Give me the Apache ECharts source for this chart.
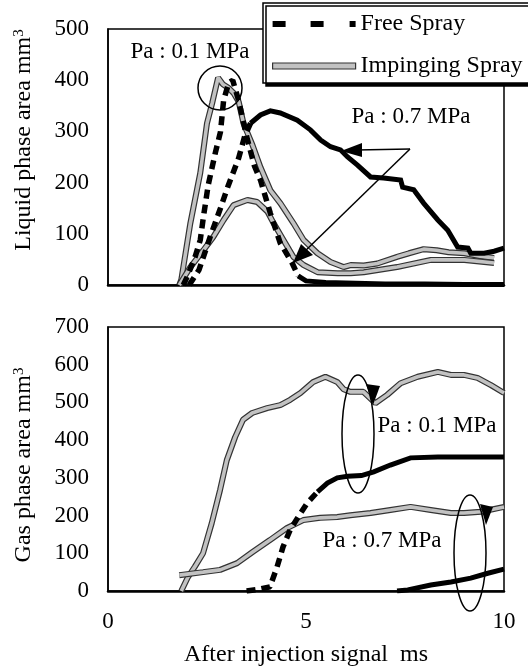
<!DOCTYPE html>
<html>
<head>
<meta charset="utf-8">
<script src="https://cdn.jsdelivr.net/npm/echarts@6/dist/echarts.min.js"></script>
<style>
  html, body { margin: 0; padding: 0; background: #fff; }
  #chart { width: 528px; height: 671px; }
</style>
</head>
<body>
<div id="chart"></div>
<script>
// x range (ms) and tick steps
const xRange = [0, 10];
const xStep = 5;
const liquidRange = [0, 500];
const gasRange = [0, 700];
const yStep = 100;

// liquid phase area, mm3
const liquidFree01 = [[1.9,0],[2.0,16],[2.2,55],[2.33,88],[2.41,133],[2.53,195],[2.71,258],[2.84,299],[2.92,361],[3.05,395],[3.15,400],[3.3,360],[3.5,290],[3.7,232],[3.85,205],[4.1,140],[4.35,82],[4.65,43],[4.8,18],[5.0,8],[5.5,5],[6.0,4],[7.0,2],[8.0,2],[9.0,1],[10,1]];
const liquidFree07 = [[2.05,0],[2.3,30],[2.58,94],[2.84,150],[3.04,195],[3.3,248],[3.45,290],[3.6,316],[3.85,332],[4.1,340],[4.35,336],[4.78,322],[5.11,303],[5.37,283],[5.62,270],[5.87,264],[6.05,250],[6.3,234],[6.63,211],[6.96,209],[7.39,205],[7.44,191],[7.72,186],[7.97,160],[8.33,127],[8.58,107],[8.83,74],[9.09,72],[9.16,62],[9.5,62],[9.75,66],[10,72]];
const liquidImp01 = [[1.8,0],[1.85,10],[2.08,121],[2.33,219],[2.5,316],[2.63,355],[2.78,405],[2.9,392],[3.04,385],[3.17,375],[3.3,358],[3.42,316],[3.65,273],[3.85,230],[4.1,185],[4.35,160],[4.68,121],[4.94,88],[5.29,62],[5.62,45],[5.95,35],[6.13,39],[6.46,38],[6.8,42],[7.3,55],[7.6,62],[7.97,70],[8.3,68],[8.6,64],[9.0,62],[9.4,56],[9.75,53]];
const liquidImp07 = [[1.8,0],[2.08,35],[2.41,68],[2.66,94],[2.92,127],[3.17,156],[3.52,166],[3.77,162],[4.03,143],[4.18,121],[4.43,88],[4.68,55],[4.94,39],[5.29,25],[5.8,23],[6.13,23],[6.46,25],[7.3,35],[8.15,49],[9.0,49],[9.75,43]];

// gas phase area, mm3
const gasFree01 = [[3.5,0],[3.84,5],[4.09,11],[4.27,64],[4.42,117],[4.6,162],[4.8,196],[5.03,233],[5.29,263],[5.54,286],[5.79,300],[6.05,304],[6.4,306],[6.71,316],[7.13,334],[7.64,353],[8.33,355],[8.99,355],[10,355]];
const gasFree07 = [[7.3,0],[7.57,3],[8.15,16],[8.66,24],[9.16,34],[9.59,47],[10,58]];
const gasImp01 = [[1.85,0],[1.89,3],[2.02,37],[2.19,64],[2.4,100],[2.62,180],[2.83,268],[3.0,347],[3.21,408],[3.41,454],[3.64,472],[4.02,485],[4.35,493],[4.6,507],[4.86,525],[5.18,554],[5.49,568],[5.79,554],[5.95,535],[6.12,528],[6.45,528],[6.75,498],[7.05,520],[7.39,551],[7.82,568],[8.33,581],[8.66,573],[8.99,573],[9.33,565],[9.67,546],[10,525]];
const gasImp07 = [[1.8,42],[2.4,50],[2.83,56],[3.26,74],[3.66,104],[4.09,135],[4.52,167],[4.93,188],[5.36,194],[5.79,196],[6.12,201],[6.63,207],[7.13,215],[7.64,223],[8.15,215],[8.66,207],[8.99,207],[9.42,210],[10,223]];

// Free Spray drawn dashed up to this x, solid after
const liquidFree01DashTo = 4.8;
const liquidFree07DashTo = 3.6;
const gasFree01DashTo = 5.29;
const gasFree07DashTo = 0;

const FONT = 'Liberation Serif';
const chart = echarts.init(document.getElementById('chart'));

function freeSeries(data, dashTo, grid) {
  const dashed = data.filter(p => p[0] <= dashTo);
  const solid = data.filter(p => p[0] >= dashTo);
  const base = {
    name: 'Free Spray', type: 'line', symbol: 'none', silent: true,
    xAxisIndex: grid, yAxisIndex: grid, z: 4
  };
  const out = [];
  if (dashed.length > 1) {
    out.push(Object.assign({}, base, {
      data: dashed,
      lineStyle: { color: '#000', width: 5.5, type: [9, 6], cap: 'butt' }
    }));
  }
  if (solid.length > 1) {
    out.push(Object.assign({}, base, {
      data: solid,
      lineStyle: { color: '#000', width: 5, join: 'miter' }
    }));
  }
  return out;
}

function impSeries(data, grid) {
  const base = {
    name: 'Impinging Spray', type: 'line', symbol: 'none', silent: true,
    xAxisIndex: grid, yAxisIndex: grid, data: data, z: 3
  };
  return [
    Object.assign({}, base, { lineStyle: { color: '#333', width: 6 } }),
    Object.assign({}, base, { lineStyle: { color: '#c2c2c2', width: 3.6 } })
  ];
}

function xAxis(grid, showLabel) {
  return {
    type: 'value', gridIndex: grid, min: xRange[0], max: xRange[1], interval: xStep,
    axisLine: { show: true, onZero: false, lineStyle: { color: '#000', width: 2.5 } },
    axisTick: { show: false },
    splitLine: { show: false },
    axisLabel: { show: showLabel, fontFamily: FONT, fontSize: 23, color: '#000', margin: 19 },
    name: showLabel ? 'After injection signal  ms' : '',
    nameLocation: 'middle', nameGap: 52,
    nameTextStyle: { fontFamily: FONT, fontSize: 24, color: '#000' }
  };
}

function yAxis(grid, range, title, pad) {
  return {
    type: 'value', gridIndex: grid, min: range[0], max: range[1], interval: yStep,
    axisLine: { show: true, lineStyle: { color: '#000', width: 1.5 } },
    axisTick: { show: false },
    splitLine: { show: false },
    axisLabel: { fontFamily: FONT, fontSize: 23, color: '#000', margin: 19 },
    name: '{a|' + title + '}{s|3}',
    nameLocation: 'middle', nameGap: 72, nameRotate: 90,
    nameTextStyle: {
      color: '#000', padding: pad,
      rich: {
        a: { fontFamily: FONT, fontSize: 24, color: '#000' },
        s: { fontFamily: FONT, fontSize: 15, color: '#000', verticalAlign: 'top', lineHeight: 15 }
      }
    }
  };
}

const series = [].concat(
  impSeries(liquidImp01, 0), impSeries(liquidImp07, 0),
  freeSeries(liquidFree01, liquidFree01DashTo, 0), freeSeries(liquidFree07, liquidFree07DashTo, 0),
  impSeries(gasImp01, 1), impSeries(gasImp07, 1),
  freeSeries(gasFree01, gasFree01DashTo, 1), freeSeries(gasFree07, gasFree07DashTo, 1)
);

// annotation helpers (pixel positions)
function label(text, x, y) {
  return { type: 'text', x: x, y: y, z: 20, style: { text: text, fontFamily: FONT, fontSize: 23, fill: '#000', align: 'center', verticalAlign: 'middle' } };
}
function head(tip, a, b) {
  return { type: 'polygon', z: 20, shape: { points: [tip, a, b] }, style: { fill: '#000' } };
}
function seg(p, q) {
  return { type: 'line', z: 20, shape: { x1: p[0], y1: p[1], x2: q[0], y2: q[1] }, style: { stroke: '#000', lineWidth: 1.5 } };
}
function oval(cx, cy, rx, ry) {
  return { type: 'ellipse', z: 20, shape: { cx: cx, cy: cy, rx: rx, ry: ry }, style: { fill: null, stroke: '#000', lineWidth: 1.5 } };
}

chart.setOption({
  animation: false,
  backgroundColor: '#fff',
  grid: [
    { left: 108, top: 29, width: 396, height: 256, show: true, borderColor: '#000', borderWidth: 1.5 },
    { left: 108, top: 327, width: 396, height: 264, show: true, borderColor: '#000', borderWidth: 1.5 }
  ],
  xAxis: [xAxis(0, false), xAxis(1, true)],
  yAxis: [
    yAxis(0, liquidRange, 'Liquid phase area mm', [0, 0, 0, 34]),
    yAxis(1, gasRange, 'Gas phase area mm', [0, 12, 0, 0])
  ],
  legend: {
    left: 263, top: 3, orient: 'vertical',
    itemWidth: 83, itemHeight: 6, itemGap: 18,
    padding: [9, 7, 5, 9],
    backgroundColor: '#fff', borderColor: '#000', borderWidth: 1.5,
    shadowColor: '#000', shadowOffsetX: 3, shadowOffsetY: 3, shadowBlur: 0,
    selectedMode: false,
    textStyle: { fontFamily: FONT, fontSize: 24, color: '#000' },
    data: [
      { name: 'Free Spray', icon: 'path://M0,0h13v6h-13z M38,0h13v6h-13z M77,0h6v6h-6z', itemStyle: { color: '#000', borderWidth: 0 } },
      { name: 'Impinging Spray', icon: 'rect', itemStyle: { color: '#c2c2c2', borderColor: '#333', borderWidth: 1.2 } }
    ]
  },
  graphic: [
    label('Pa : 0.1 MPa', 190, 52),
    label('Pa : 0.7 MPa', 411, 117),
    { type: 'circle', z: 20, shape: { cx: 220, cy: 88, r: 22 }, style: { fill: null, stroke: '#000', lineWidth: 1.5 } },
    seg([410, 149], [356, 150]),
    head([341, 151], [362, 143], [362, 157]),
    seg([410, 149], [302, 254]),
    head([293, 263], [301, 244], [313, 255]),
    label('Pa : 0.1 MPa', 437, 426),
    label('Pa : 0.7 MPa', 382, 541),
    oval(358, 434, 16, 59),
    head([373, 405], [366, 384], [380, 386]),
    oval(470, 553, 16, 58),
    head([486, 525], [480, 504], [493, 507])
  ],
  series: series
});
</script>
</body>
</html>
